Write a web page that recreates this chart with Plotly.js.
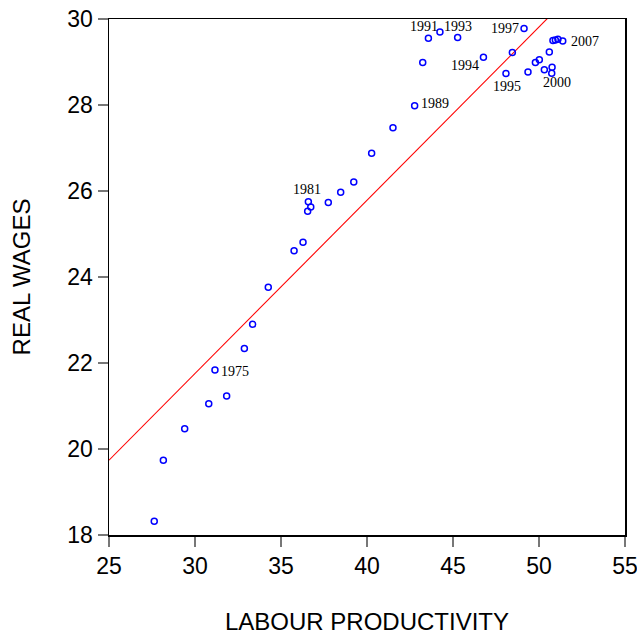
<!DOCTYPE html>
<html>
<head>
<meta charset="utf-8">
<script src="https://cdn.plot.ly/plotly-3.0.1.min.js"></script>
<style>
html,body{margin:0;padding:0;background:#fff;}
#chart{width:637px;height:635px;}
</style>
</head>
<body>
<div id="chart"></div>
<script>
// Labour productivity (x) and real wages (y), one point per year
var productivity = [27.63, 28.16, 29.40, 30.80, 31.84, 31.16, 32.87, 33.35, 34.26, 35.76,
  36.28, 36.59, 36.55, 36.73, 37.75, 38.47, 39.23, 40.27, 41.51, 42.77,
  43.24, 43.57, 44.24, 45.27, 46.77, 48.08, 48.45, 49.13, 49.36, 49.79,
  50.02, 50.31, 50.74, 50.76, 50.60, 50.81, 50.95, 51.10, 51.38];
var realWages = [18.32, 19.74, 20.47, 21.05, 21.23, 21.84, 22.34, 22.90, 23.76, 24.61,
  24.81, 25.75, 25.53, 25.63, 25.73, 25.97, 26.21, 26.88, 27.47, 27.98,
  28.99, 29.55, 29.70, 29.57, 29.11, 28.73, 29.22, 29.78, 28.77, 28.99,
  29.05, 28.82, 28.74, 28.88, 29.23, 29.50, 29.51, 29.53, 29.49];

// Fitted regression line (end points)
var fitX = [25, 55];
var fitY = [19.74, 31.83];

// Year labels attached to points (index into arrays above)
var labelText  = ['1975', '1981', '1989', '1991', '1993', '1994', '1995', '1997', '2000', '2007'];
var labelIndex = [5, 11, 19, 21, 23, 24, 25, 27, 32, 38];
var labelDx    = [20, -1, 20, -4, 0, -18, 1, -19, 5, 22];
var labelDy    = [2, -12, -2, -12, -11, 8, 13, 0, 9, 1];

var xTicks = [25, 30, 35, 40, 45, 50, 55];
var yTicks = [18, 20, 22, 24, 26, 28, 30];

var traces = [
  {
    x: fitX, y: fitY, mode: 'lines', type: 'scatter',
    line: {color: '#ff0000', width: 1.1},
    hoverinfo: 'skip', showlegend: false
  },
  {
    x: productivity, y: realWages, mode: 'markers', type: 'scatter',
    marker: {symbol: 'circle-open', size: 6, color: '#0000ff', line: {width: 1.5, color: '#0000ff'}},
    showlegend: false, cliponaxis: false
  }
];

var annotations = labelText.map(function (t, i) {
  var k = labelIndex[i];
  return {
    x: productivity[k], y: realWages[k], xref: 'x', yref: 'y',
    text: t, showarrow: false, xanchor: 'center', yanchor: 'middle',
    xshift: labelDx[i], yshift: -labelDy[i],
    font: {family: 'Liberation Serif, Times New Roman, serif', size: 14, color: '#000'}
  };
});

var tickFont = {family: 'Liberation Sans, Arial, sans-serif', size: 23, color: '#000'};
var titleFont = {family: 'Liberation Sans, Arial, sans-serif', size: 24, color: '#000'};

var layout = {
  width: 637, height: 635,
  margin: {l: 109, r: 12, t: 19, b: 100, pad: 0},
  paper_bgcolor: '#fff', plot_bgcolor: '#fff',
  showlegend: false,
  font: tickFont,
  xaxis: {
    range: [25, 55], tickvals: xTicks, ticktext: xTicks.map(String),
    showgrid: false, zeroline: false,
    showline: true, mirror: true, linecolor: '#000', linewidth: 1.5,
    ticks: 'outside', ticklen: 10, tickwidth: 1.2, tickcolor: '#777',
    tickfont: tickFont, ticklabeloverflow: 'allow',
    title: {text: 'LABOUR PRODUCTIVITY', font: titleFont, standoff: 37}
  },
  yaxis: {
    range: [18, 30], tickvals: yTicks, ticktext: yTicks.map(String),
    showgrid: false, zeroline: false,
    showline: true, mirror: true, linecolor: '#000', linewidth: 1.5,
    ticks: 'outside', ticklen: 10, tickwidth: 1.2, tickcolor: '#777',
    tickfont: tickFont, ticklabeloverflow: 'allow',
    title: {text: 'REAL WAGES', font: titleFont, standoff: 30}
  },
  annotations: annotations
};

Plotly.newPlot('chart', traces, layout, {displayModeBar: false, staticPlot: true});
</script>
</body>
</html>
